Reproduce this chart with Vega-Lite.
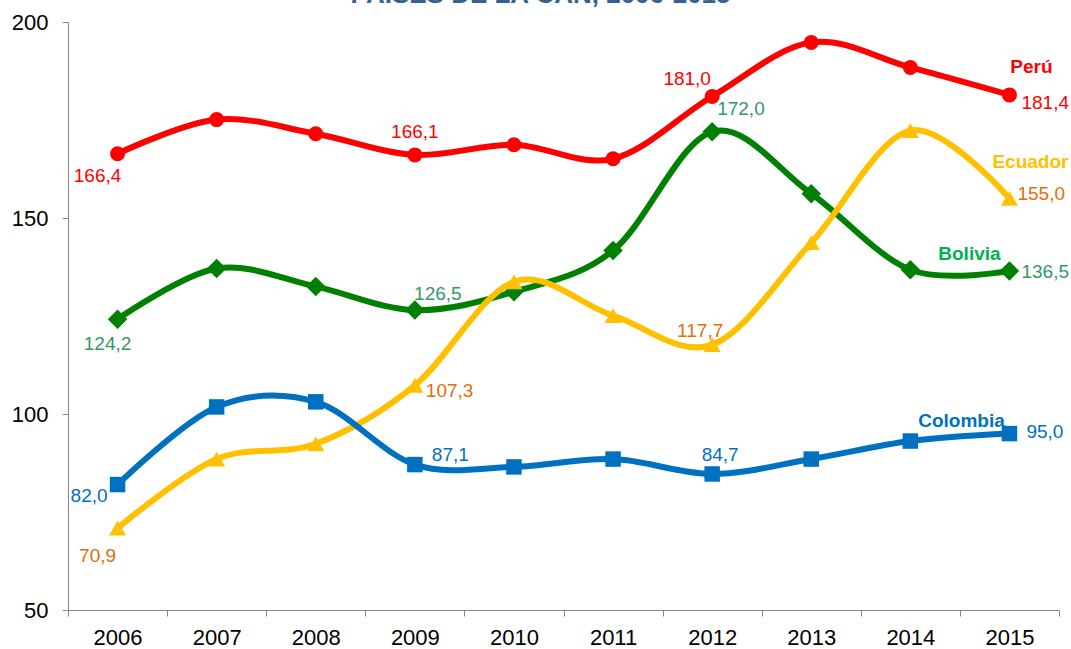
{
  "$schema": "https://vega.github.io/schema/vega-lite/v6.json",
  "width": 991,
  "height": 588,
  "autosize": {"type": "none"},
  "padding": {"left": 68, "top": 22, "right": 12, "bottom": 39},
  "config": {
    "font": "Liberation Sans",
    "view": {"stroke": null},
    "locale": {"number": {"decimal": ",", "thousands": ".", "grouping": [3], "currency": ["", ""]}}
  },
  "title": {
    "text": "PAÍSES DE LA CAN, 2006-2015",
    "color": "#376092",
    "fontSize": 26,
    "fontWeight": "bold",
    "anchor": "middle",
    "dx": -23,
    "offset": 3
  },
  "data": {
    "values": [
      {"series": "Perú", "year": "2006", "value": 166.4},
      {"series": "Perú", "year": "2007", "value": 175.1},
      {"series": "Perú", "year": "2008", "value": 171.5},
      {"series": "Perú", "year": "2009", "value": 166.1},
      {"series": "Perú", "year": "2010", "value": 168.7},
      {"series": "Perú", "year": "2011", "value": 165.1},
      {"series": "Perú", "year": "2012", "value": 181.0},
      {"series": "Perú", "year": "2013", "value": 194.8},
      {"series": "Perú", "year": "2014", "value": 188.4},
      {"series": "Perú", "year": "2015", "value": 181.4},
      {"series": "Bolivia", "year": "2006", "value": 124.2},
      {"series": "Bolivia", "year": "2007", "value": 137.1},
      {"series": "Bolivia", "year": "2008", "value": 132.5},
      {"series": "Bolivia", "year": "2009", "value": 126.5},
      {"series": "Bolivia", "year": "2010", "value": 131.2},
      {"series": "Bolivia", "year": "2011", "value": 141.7},
      {"series": "Bolivia", "year": "2012", "value": 172.0},
      {"series": "Bolivia", "year": "2013", "value": 156.2},
      {"series": "Bolivia", "year": "2014", "value": 136.8},
      {"series": "Bolivia", "year": "2015", "value": 136.5},
      {"series": "Ecuador", "year": "2006", "value": 70.9},
      {"series": "Ecuador", "year": "2007", "value": 88.5},
      {"series": "Ecuador", "year": "2008", "value": 92.4},
      {"series": "Ecuador", "year": "2009", "value": 107.3},
      {"series": "Ecuador", "year": "2010", "value": 133.7},
      {"series": "Ecuador", "year": "2011", "value": 125.1},
      {"series": "Ecuador", "year": "2012", "value": 117.7},
      {"series": "Ecuador", "year": "2013", "value": 143.7},
      {"series": "Ecuador", "year": "2014", "value": 172.3},
      {"series": "Ecuador", "year": "2015", "value": 155.0},
      {"series": "Colombia", "year": "2006", "value": 82.0},
      {"series": "Colombia", "year": "2007", "value": 101.8},
      {"series": "Colombia", "year": "2008", "value": 103.1},
      {"series": "Colombia", "year": "2009", "value": 87.1},
      {"series": "Colombia", "year": "2010", "value": 86.5},
      {"series": "Colombia", "year": "2011", "value": 88.5},
      {"series": "Colombia", "year": "2012", "value": 84.7},
      {"series": "Colombia", "year": "2013", "value": 88.5},
      {"series": "Colombia", "year": "2014", "value": 93.1},
      {"series": "Colombia", "year": "2015", "value": 95.0}
    ]
  },
  "encoding": {
    "x": {
      "field": "year", "type": "ordinal", "bandPosition": 0.5,
      "scale": {"type": "band", "paddingInner": 0, "paddingOuter": 0},
      "axis": {
        "title": null, "labelAngle": 0, "tickBand": "extent",
        "domainColor": "#868686", "tickColor": "#868686", "tickSize": 6,
        "labelFontSize": 22, "labelColor": "#000000", "labelPadding": 11,
        "grid": false
      }
    },
    "y": {
      "field": "value", "type": "quantitative",
      "scale": {"domain": [50, 200], "nice": false, "zero": false},
      "axis": {
        "title": null, "values": [50, 100, 150, 200], "grid": false,
        "domainColor": "#868686", "tickColor": "#868686", "tickSize": 6,
        "labelFontSize": 22, "labelColor": "#000000", "labelPadding": 14
      }
    }
  },
  "layer": [
    {
      "mark": {"type": "line", "strokeWidth": 6, "interpolate": "cardinal", "tension": 0},
      "encoding": {
        "color": {"field": "series", "type": "nominal", "legend": null,
          "scale": {"domain": ["Perú", "Bolivia", "Ecuador", "Colombia"], "range": ["#FF0000", "#008000", "#FFC000", "#0070C0"]}}
      }
    },
    {
      "mark": {"type": "point", "filled": true, "opacity": 1},
      "encoding": {
        "color": {"field": "series", "type": "nominal", "legend": null},
        "shape": {"field": "series", "type": "nominal", "legend": null,
          "scale": {"domain": ["Perú", "Bolivia", "Ecuador", "Colombia"], "range": ["circle", "diamond", "triangle-up", "square"]}},
        "size": {"field": "series", "type": "nominal", "legend": null,
          "scale": {"type": "ordinal", "domain": ["Perú", "Bolivia", "Ecuador", "Colombia"], "range": [225, 380, 290, 240]}}
      }
    },
    {"transform": [{"filter": "datum.series=='Perú' && datum.year=='2006'"}], "mark": {"type": "text", "fontSize": 19, "color": "#FF0000", "dx": -20, "dy": 22}, "encoding": {"text": {"field": "value", "format": ".1f"}}},
    {"transform": [{"filter": "datum.series=='Perú' && datum.year=='2009'"}], "mark": {"type": "text", "fontSize": 19, "color": "#FF0000", "dx": 0, "dy": -23}, "encoding": {"text": {"field": "value", "format": ".1f"}}},
    {"transform": [{"filter": "datum.series=='Perú' && datum.year=='2012'"}], "mark": {"type": "text", "fontSize": 19, "color": "#FF0000", "dx": -25, "dy": -17}, "encoding": {"text": {"field": "value", "format": ".1f"}}},
    {"transform": [{"filter": "datum.series=='Perú' && datum.year=='2015'"}], "mark": {"type": "text", "fontSize": 19, "color": "#FF0000", "align": "left", "dx": 12, "dy": 8}, "encoding": {"text": {"field": "value", "format": ".1f"}}},
    {"transform": [{"filter": "datum.series=='Bolivia' && datum.year=='2006'"}], "mark": {"type": "text", "fontSize": 19, "color": "#339966", "dx": -10, "dy": 25}, "encoding": {"text": {"field": "value", "format": ".1f"}}},
    {"transform": [{"filter": "datum.series=='Bolivia' && datum.year=='2009'"}], "mark": {"type": "text", "fontSize": 19, "color": "#339966", "dx": 23, "dy": -16}, "encoding": {"text": {"field": "value", "format": ".1f"}}},
    {"transform": [{"filter": "datum.series=='Bolivia' && datum.year=='2012'"}], "mark": {"type": "text", "fontSize": 19, "color": "#339966", "align": "left", "dx": 5, "dy": -23}, "encoding": {"text": {"field": "value", "format": ".1f"}}},
    {"transform": [{"filter": "datum.series=='Bolivia' && datum.year=='2015'"}], "mark": {"type": "text", "fontSize": 19, "color": "#339966", "align": "left", "dx": 12, "dy": 1}, "encoding": {"text": {"field": "value", "format": ".1f"}}},
    {"transform": [{"filter": "datum.series=='Ecuador' && datum.year=='2006'"}], "mark": {"type": "text", "fontSize": 19, "color": "#E46C0A", "dx": -20, "dy": 28}, "encoding": {"text": {"field": "value", "format": ".1f"}}},
    {"transform": [{"filter": "datum.series=='Ecuador' && datum.year=='2009'"}], "mark": {"type": "text", "fontSize": 19, "color": "#E46C0A", "align": "left", "dx": 11, "dy": 6}, "encoding": {"text": {"field": "value", "format": ".1f"}}},
    {"transform": [{"filter": "datum.series=='Ecuador' && datum.year=='2012'"}], "mark": {"type": "text", "fontSize": 19, "color": "#E46C0A", "dx": -12, "dy": -14}, "encoding": {"text": {"field": "value", "format": ".1f"}}},
    {"transform": [{"filter": "datum.series=='Ecuador' && datum.year=='2015'"}], "mark": {"type": "text", "fontSize": 19, "color": "#E46C0A", "align": "left", "dx": 8, "dy": -4}, "encoding": {"text": {"field": "value", "format": ".1f"}}},
    {"transform": [{"filter": "datum.series=='Colombia' && datum.year=='2006'"}], "mark": {"type": "text", "fontSize": 19, "color": "#0070C0", "align": "right", "dx": -10, "dy": 11}, "encoding": {"text": {"field": "value", "format": ".1f"}}},
    {"transform": [{"filter": "datum.series=='Colombia' && datum.year=='2009'"}], "mark": {"type": "text", "fontSize": 19, "color": "#0070C0", "align": "left", "dx": 17, "dy": -10}, "encoding": {"text": {"field": "value", "format": ".1f"}}},
    {"transform": [{"filter": "datum.series=='Colombia' && datum.year=='2012'"}], "mark": {"type": "text", "fontSize": 19, "color": "#0070C0", "dx": 8, "dy": -19}, "encoding": {"text": {"field": "value", "format": ".1f"}}},
    {"transform": [{"filter": "datum.series=='Colombia' && datum.year=='2015'"}], "mark": {"type": "text", "fontSize": 19, "color": "#0070C0", "align": "left", "dx": 17, "dy": -2}, "encoding": {"text": {"field": "value", "format": ".1f"}}},
    {"transform": [{"filter": "datum.series=='Perú' && datum.year=='2015'"}], "mark": {"type": "text", "fontSize": 19, "fontWeight": "bold", "color": "#FF0000", "dx": 22, "dy": -28}, "encoding": {"text": {"field": "series"}}},
    {"transform": [{"filter": "datum.series=='Ecuador' && datum.year=='2015'"}], "mark": {"type": "text", "fontSize": 19, "fontWeight": "bold", "color": "#FFC000", "dx": 21, "dy": -36}, "encoding": {"text": {"field": "series"}}},
    {"transform": [{"filter": "datum.series=='Bolivia' && datum.year=='2015'"}], "mark": {"type": "text", "fontSize": 19, "fontWeight": "bold", "color": "#00B050", "dx": -40, "dy": -17}, "encoding": {"text": {"field": "series"}}},
    {"transform": [{"filter": "datum.series=='Colombia' && datum.year=='2015'"}], "mark": {"type": "text", "fontSize": 19, "fontWeight": "bold", "color": "#0070C0", "dx": -48, "dy": -13}, "encoding": {"text": {"field": "series"}}}
  ]
}
